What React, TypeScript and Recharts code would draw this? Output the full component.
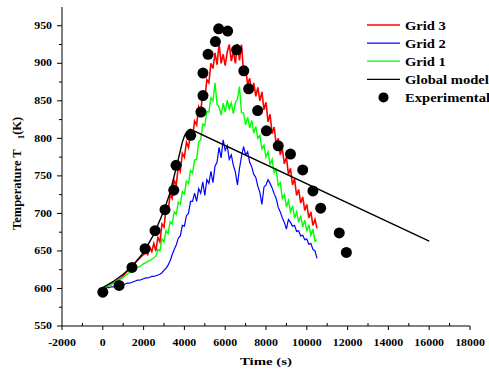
import { ComposedChart, Line, XAxis, YAxis, Legend } from "recharts"

const timeS = [
  0, 100, 200, 300, 400, 500, 600, 700, 800, 900,
  1000, 1100, 1200, 1300, 1400, 1500, 1600, 1700, 1800, 1900,
  2000, 2100, 2200, 2300, 2400, 2500, 2600, 2700, 2800, 2900,
  3000, 3100, 3200, 3300, 3400, 3500, 3600, 3700, 3800, 3900,
  4000, 4100, 4200, 4300, 4400, 4500, 4600, 4700, 4800, 4900,
  5000, 5100, 5200, 5300, 5400, 5500, 5600, 5700, 5800, 5900,
  6000, 6100, 6200, 6300, 6400, 6500, 6600, 6700, 6800, 6900,
  7000, 7100, 7200, 7300, 7400, 7500, 7600, 7700, 7800, 7900,
  8000, 8100, 8200, 8300, 8400, 8500, 8600, 8700, 8800, 8900,
  9000, 9100, 9200, 9300, 9400, 9500, 9600, 9700, 9800, 9900,
  10000, 10100, 10200, 10300, 10400, 10500,
]

const grid3 = [
  600, 601, 603, 604, 605, 607, 608, 610, 612, 614,
  617, 620, 623, 626, 629, 632, 635, 638, 640, 643,
  645, 648, 645, 655, 649, 660, 650, 668, 662, 686,
  682, 706, 702, 725, 720, 744, 738, 762, 756, 780,
  775, 795, 788, 806, 802, 823, 818, 842, 836, 860,
  853, 878, 874, 900, 893, 914, 898, 926, 900, 912,
  897, 915, 925, 903, 916, 900, 926, 904, 925, 888,
  894, 872, 880, 862, 874, 856, 868, 850, 862, 838,
  848, 822, 832, 806, 815, 792, 800, 778, 786, 766,
  775, 752, 760, 738, 746, 724, 732, 714, 722, 704,
  712, 694, 702, 684, 692, 680,
]

const grid2 = [
  600, 600, 601, 601, 602, 602, 602, 602, 603, 604,
  605, 606, 607, 607, 608, 609, 610, 611, 611, 612,
  613, 614, 614, 615, 616, 616, 617, 618, 619, 621,
  624, 627, 631, 637, 645, 652, 658, 667, 670, 684,
  683, 697, 700, 716, 716, 727, 716, 733, 727, 742,
  724, 745, 740, 756, 741, 763, 768, 788, 774, 798,
  784, 790, 772, 778, 764, 755, 738, 760, 776, 789,
  778, 782, 768, 762, 752, 748, 736, 728, 712, 735,
  738, 745, 740, 734, 726, 720, 708, 702, 694, 688,
  679, 692, 688, 683, 684, 676, 677, 670, 671, 665,
  666, 659, 660, 652, 650, 640,
]

const grid1 = [
  600, 601, 603, 604, 605, 607, 608, 610, 611, 613,
  615, 617, 619, 621, 623, 625, 626, 628, 629, 631,
  633, 634, 636, 637, 639, 641, 643, 652, 650, 666,
  662, 677, 673, 689, 686, 702, 699, 715, 712, 729,
  726, 743, 740, 757, 754, 771, 772, 795, 798, 819,
  817, 836, 835, 854, 850, 874, 845, 842, 831, 847,
  835, 851, 839, 847, 833, 848, 852, 869, 834, 834,
  818, 828, 814, 824, 807, 816, 800, 804, 786, 791,
  775, 782, 765, 772, 754, 759, 737, 741, 720, 725,
  709, 717, 702, 710, 694, 702, 688, 697, 682, 691,
  676, 685, 671, 679, 663, 665,
]

const modelTime = [0, 500, 1000, 1500, 2000, 2500, 3000, 3300, 3500, 3700, 3900, 4000, 4100, 4200, 4300, 16000]
const modelTemp = [601, 609, 619, 631, 648, 672, 704, 728, 750, 772, 795, 803, 808, 811, 812, 663]

const expTime = [
  0, 800, 1430, 2070, 2560, 3050, 3480, 3590, 4310, 4810, 4910, 4910, 5160, 5520,
  5680, 6120, 6560, 6910, 7150, 7590, 8020, 8600, 9200, 9800, 10300, 10680, 11590, 11940,
]
const expTemp = [
  595, 604, 628, 653, 677, 705, 731, 764, 804, 835, 857, 887, 912, 929,
  946, 943, 918, 890, 866, 837, 810, 790, 779, 758, 730, 707, 674, 648,
]

const yMajor = [550, 600, 650, 700, 750, 800, 850, 900, 950]
const yMinor = [575, 625, 675, 725, 775, 825, 875, 925]
const xMajor = [-2000, 0, 2000, 4000, 6000, 8000, 10000, 12000, 14000, 16000, 18000]
const xMinor = [-1000, 1000, 3000, 5000, 7000, 9000, 11000, 13000, 15000, 17000]

const legendItems = [
  { name: "Grid 3", color: "#ff0000", kind: "line" },
  { name: "Grid 2", color: "#0000ff", kind: "line" },
  { name: "Grid 1", color: "#00ff00", kind: "line" },
  { name: "Global model", color: "#000000", kind: "line" },
  { name: "Experimental", color: "#000000", kind: "dot" },
]

const gridRows = timeS.map((t, i) => ({ t, grid3: grid3[i], grid2: grid2[i], grid1: grid1[i] }))
const modelRows = modelTime.map((t, i) => ({ t, model: modelTemp[i] }))
const expRows = expTime.map((t, i) => ({ t, exp: expTemp[i] }))

const serif = '"Liberation Serif", "Times New Roman", serif'

function XTick({ x, y, payload }: any) {
  const major = xMajor.includes(payload.value)
  return (
    <g>
      <line x1={x} x2={x} y1={y} y2={major ? y + 4 : y - 3} stroke="#000" />
      {major && (
        <text
          transform={`translate(${x},${y + 19.5}) scale(1.25,1)`}
          textAnchor="middle"
          fontFamily={serif}
          fontWeight="bold"
          fontSize={9.5}
          fill="#000"
        >
          {payload.value}
        </text>
      )}
    </g>
  )
}

function YTick({ x, y, payload }: any) {
  const major = yMajor.includes(payload.value)
  return (
    <g>
      <line x1={x - (major ? 5 : 3)} x2={x} y1={y} y2={y} stroke="#000" />
      {major && (
        <text
          transform={`translate(${x - 10},${y + 3.2}) scale(1.25,1)`}
          textAnchor="end"
          fontFamily={serif}
          fontWeight="bold"
          fontSize={9.5}
          fill="#000"
        >
          {payload.value}
        </text>
      )}
    </g>
  )
}

function ChartLegend() {
  return (
    <svg width={489} height={110} style={{ display: "block" }}>
      {legendItems.map((item, i) => {
        const cy = 25 + i * 18.1
        return (
          <g key={item.name}>
            {item.kind === "line" ? (
              <line x1={367} x2={400} y1={cy} y2={cy} stroke={item.color} strokeWidth={1.3} />
            ) : (
              <circle cx={383.5} cy={cy} r={5} fill={item.color} />
            )}
            <text
              transform={`translate(405,${cy + 4.5}) scale(1.27,1)`}
              fontFamily={serif}
              fontWeight="bold"
              fontSize={11.5}
              fill="#000"
            >
              {item.name}
            </text>
          </g>
        )
      })}
    </svg>
  )
}

export default function App() {
  return (
    <div style={{ position: "absolute", left: 0, top: 0, width: 489, height: 376, background: "#fff" }}>
      <ComposedChart width={489} height={376} margin={{ top: 7, right: 19, bottom: 0, left: 22 }}>
        <XAxis
          dataKey="t"
          type="number"
          domain={[-2000, 18000]}
          ticks={[...xMajor, ...xMinor].sort((a, b) => a - b)}
          interval={0}
          height={50}
          tickSize={0}
          tickMargin={0}
          tickLine={false}
          axisLine={{ stroke: "#000" }}
          tick={<XTick />}
          label={{
            content: () => (
              <text
                transform="translate(266,365) scale(1.35,1)"
                textAnchor="middle"
                fontFamily={serif}
                fontWeight="bold"
                fontSize={11}
                fill="#000"
              >
                Time (s)
              </text>
            ),
          }}
        />
        <YAxis
          type="number"
          domain={[550, 975]}
          ticks={[...yMajor, ...yMinor].sort((a, b) => a - b)}
          interval={0}
          width={40}
          tickSize={0}
          tickMargin={0}
          tickLine={false}
          axisLine={{ stroke: "#000" }}
          tick={<YTick />}
          label={{
            content: () => (
              <text
                transform="translate(20.5,230) rotate(-90)"
                fontFamily={serif}
                fontWeight="bold"
                fontSize={12.5}
                fill="#000"
              >
                Temperature T
                <tspan dx={10} dy={3} fontSize={9}>1</tspan>
                <tspan dy={-3}>(K)</tspan>
              </text>
            ),
          }}
        />
        <Legend
          layout="horizontal"
          verticalAlign="middle"
          align="center"
          wrapperStyle={{ left: 0, top: 0, width: 489, height: 110 }}
          content={() => <ChartLegend />}
        />
        <Line data={gridRows} dataKey="grid3" name="Grid 3" stroke="#ff0000" strokeWidth={1.6} dot={false} isAnimationActive={false} />
        <Line data={gridRows} dataKey="grid2" name="Grid 2" stroke="#0000ff" strokeWidth={1.2} dot={false} isAnimationActive={false} />
        <Line data={gridRows} dataKey="grid1" name="Grid 1" stroke="#00ff00" strokeWidth={1.4} dot={false} isAnimationActive={false} />
        <Line data={modelRows} dataKey="model" name="Global model" stroke="#000" strokeWidth={1.4} dot={false} isAnimationActive={false} />
        <Line
          data={expRows}
          dataKey="exp"
          name="Experimental"
          stroke="none"
          legendType="circle"
          dot={{ r: 5.5, fill: "#000", stroke: "none" }}
          isAnimationActive={false}
        />
      </ComposedChart>
    </div>
  )
}
